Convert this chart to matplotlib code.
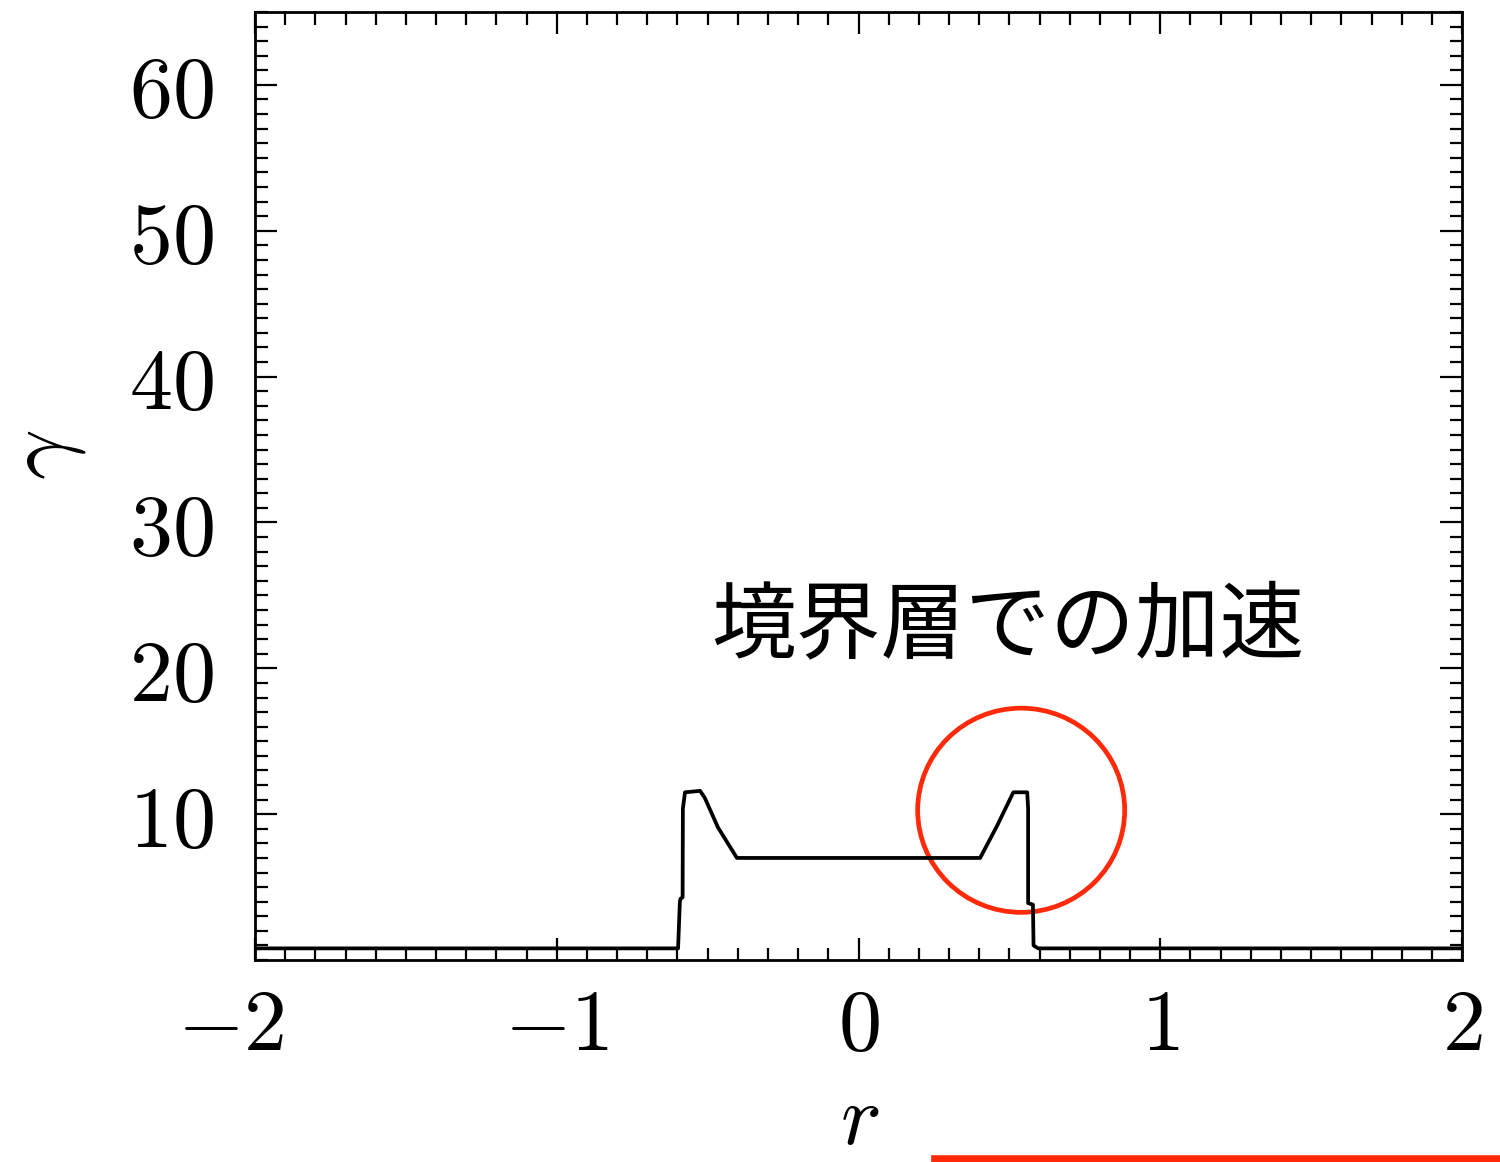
import matplotlib
matplotlib.use("Agg")
import matplotlib.pyplot as plt
from matplotlib.patches import Ellipse
from matplotlib.lines import Line2D
from matplotlib.ticker import MultipleLocator
from matplotlib.transforms import ScaledTranslation

plt.rcParams["mathtext.fontset"] = "cm"

# Lorentz factor profile across the jet
r = [-2.0, -0.598, -0.592, -0.590, -0.583, -0.582, -0.575, -0.525, -0.509,
     -0.466, -0.403, 0.403, 0.459, 0.513, 0.559, 0.562, 0.562, 0.578, 0.580,
     0.595, 2.0]
gamma = [0.8, 0.8, 4.0, 4.2, 4.3, 10.4, 11.5, 11.6, 11.1,
         9.1, 7.0, 7.0, 9.2, 11.5, 11.5, 10.4, 3.9, 3.8, 1.0,
         0.8, 0.8]

xticks = [-2, -1, 0, 1, 2]
xticklabels = [r"$-2$", r"$-1$", r"$0$", r"$1$", r"$2$"]
yticks = [10, 20, 30, 40, 50, 60]
yticklabels = [r"$10$", r"$20$", r"$30$", r"$40$", r"$50$", r"$60$"]

note = "境界層での加速"
note_pos = (0.493, 22.8)
circle_center = (0.539, 10.27)

fig = plt.figure(figsize=(15, 11.62), dpi=100)
ax = fig.add_axes([0.17, 0.1738, 0.8047, 0.8159])

ax.plot(r, gamma, color="black", lw=2.7)

ax.set_xlim(-2, 2)
ax.set_ylim(0, 65)
ax.set_xticks(xticks)
ax.set_xticklabels(xticklabels)
ax.set_yticks(yticks)
ax.set_yticklabels(yticklabels)
ax.xaxis.set_minor_locator(MultipleLocator(0.1))
ax.yaxis.set_minor_locator(MultipleLocator(1))
ax.tick_params(which="both", direction="in", top=True, right=True, width=1.6)
ax.tick_params(which="major", length=16, labelsize=62)
ax.tick_params(axis="x", which="major", pad=18)
ax.tick_params(axis="y", which="major", pad=30)
ax.tick_params(which="minor", length=9)
for s in ax.spines.values():
    s.set_linewidth(2.0)

# nudge the leftmost x label a little to the left
lbl = ax.get_xticklabels()[0]
lbl.set_transform(lbl.get_transform() + ScaledTranslation(-0.24, 0, fig.dpi_scale_trans))

ax.set_xlabel(r"$r$", fontsize=62)
ax.xaxis.set_label_coords(0.501, -0.125)
ax.set_ylabel(r"$\gamma$", fontsize=64)
ax.yaxis.set_label_coords(-0.138, 0.533)

ax.text(note_pos[0], note_pos[1], note, fontsize=61, ha="center", va="center",
        family=["Noto Sans CJK JP", "DejaVu Sans"])

ax.add_patch(Ellipse(circle_center, 0.686, 14.0, fill=False,
                     edgecolor="#ff2a0a", lw=3.4, clip_on=False))

fig.add_artist(Line2D([0.623, 1.0], [0.003, 0.003], color="#ff2a0a", lw=5.5,
                      transform=fig.transFigure))

fig.savefig("out.png", dpi=100)
